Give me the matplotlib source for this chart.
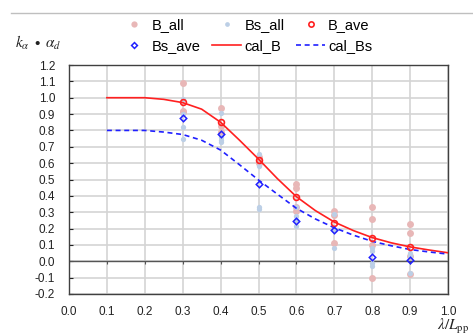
import matplotlib
matplotlib.use("Agg")
import matplotlib.pyplot as plt
from matplotlib.lines import Line2D
import numpy as np

plt.rcParams['font.family'] = ['Liberation Sans', 'DejaVu Sans']
plt.rcParams['mathtext.fontset'] = 'stix'

# ---- data ----
x_cats = [0.3, 0.4, 0.5, 0.6, 0.7, 0.8, 0.9]
B_all = [
    [1.09, 0.92, 0.91],
    [0.94, 0.83, 0.79],
    [0.64, 0.62, 0.60],
    [0.47, 0.45, 0.33, 0.31],
    [0.31, 0.28, 0.11],
    [0.33, 0.26, 0.10, -0.10],
    [0.23, 0.17, 0.03, -0.08],
]
Bs_all = [
    [0.99, 0.90, 0.82, 0.75],
    [0.905, 0.76, 0.74, 0.73],
    [0.656, 0.58, 0.33, 0.32],
    [0.33, 0.277, 0.25, 0.216],
    [0.29, 0.19, 0.08],
    [0.08, 0.06, -0.01, -0.03],
    [0.05, 0.03, -0.07],
]
B_ave = [0.974, 0.85, 0.62, 0.395, 0.235, 0.14, 0.086]
Bs_ave = [0.874, 0.778, 0.472, 0.248, 0.19, 0.024, 0.006]

x_cal = [0.10, 0.15, 0.20, 0.25, 0.30, 0.35, 0.40, 0.45, 0.50, 0.55,
         0.60, 0.65, 0.70, 0.75, 0.80, 0.85, 0.90, 0.95, 1.00]
cal_B = [1.00, 1.00, 1.00, 0.99, 0.97, 0.93, 0.85, 0.74, 0.625, 0.505,
         0.395, 0.31, 0.24, 0.188, 0.145, 0.113, 0.088, 0.069, 0.052]
cal_Bs = [0.80, 0.80, 0.80, 0.79, 0.775, 0.74, 0.68, 0.59, 0.497, 0.41,
          0.324, 0.259, 0.205, 0.16, 0.122, 0.095, 0.072, 0.057, 0.044]

x_ticks = [0.0, 0.1, 0.2, 0.3, 0.4, 0.5, 0.6, 0.7, 0.8, 0.9, 1.0]
y_ticks = [-0.2, -0.1, 0.0, 0.1, 0.2, 0.3, 0.4, 0.5, 0.6, 0.7, 0.8, 0.9, 1.0, 1.1, 1.2]

# ---- figure ----
fig = plt.figure(figsize=(4.73, 3.36), dpi=100)
ax = fig.add_axes([69/473, 1-294/336, (448-69)/473, (294-65)/336])

bx = [x for x, vals in zip(x_cats, B_all) for _ in vals]
by = [v for vals in B_all for v in vals]
sx = [x for x, vals in zip(x_cats, Bs_all) for _ in vals]
sy = [v for vals in Bs_all for v in vals]

h_ball, = ax.plot(bx, by, 'o', ls='none', color='#e8b7b7', ms=5, mec='none', zorder=3, label='B_all')
h_bsall, = ax.plot(sx, sy, 'o', ls='none', color='#bccfe6', ms=3.8, mec='none', zorder=3.5, label='Bs_all')
h_cb, = ax.plot(x_cal, cal_B, '-', color='#ff2020', lw=1.2, zorder=4, label='cal_B')
h_cbs, = ax.plot(x_cal, cal_Bs, '--', color='#2020ff', lw=1.2, dashes=(3, 2.2), zorder=4, label='cal_Bs')
h_bave, = ax.plot(x_cats, B_ave, 'o', ls='none', mfc='none', mec='#ff2020', mew=1.2, ms=4.2, zorder=5, label='B_ave')
h_bsave, = ax.plot(x_cats, Bs_ave, 'D', ls='none', mfc='none', mec='#2020ff', mew=1.1, ms=3.3, zorder=5, label='Bs_ave')

ax.set_xlim(0, 1.0)
ax.set_ylim(-0.2, 1.2)
ax.set_xticks(x_ticks)
ax.set_yticks(y_ticks)
ax.set_xticklabels([f'{v:.1f}' for v in x_ticks])
ax.set_yticklabels([f'{v:.1f}' for v in y_ticks])
ax.grid(True, color='#d4d4d4', lw=1.2, zorder=0)
ax.set_axisbelow(True)
ax.tick_params(axis='x', length=0, labelsize=8.5, pad=8.5, colors='#222222')
ax.tick_params(axis='y', direction='in', length=3, labelsize=8.5, pad=10, colors='#222222')
for s in ax.spines.values():
    s.set_color('#404040')
    s.set_linewidth(1.0)

ax.axhline(0, color='#555555', lw=1.0, zorder=2)
ax.vlines(x_ticks, -0.018, 0, color='#555555', lw=0.8, zorder=2)

handles = [h_ball, h_bsave, h_bsall, h_cb, h_bave, h_cbs]
fig.legend(handles=handles, labels=[h.get_label() for h in handles],
           ncol=3, loc='center', bbox_to_anchor=(246/473, 1-35.5/336),
           frameon=False, fontsize=10.5, handlelength=2.0, handletextpad=0.2,
           columnspacing=0.8, labelspacing=0.5, borderpad=0.2, markerscale=0.9)

fig.text(15/473, 1-43/336, r'$k_{\alpha}\ \bullet\ \alpha_{d}$', fontsize=11,
         ha='left', va='center', color='#222222')
fig.text(437/473, 1-326/336, r'$\lambda/L_{\mathrm{pp}}$', fontsize=11,
         ha='left', va='center', color='#222222')

fig.add_artist(Line2D([11/473, 1.0], [1-13/336, 1-13/336], color='#bfbfbf', lw=1.0))

fig.savefig('out.png', dpi=100)
